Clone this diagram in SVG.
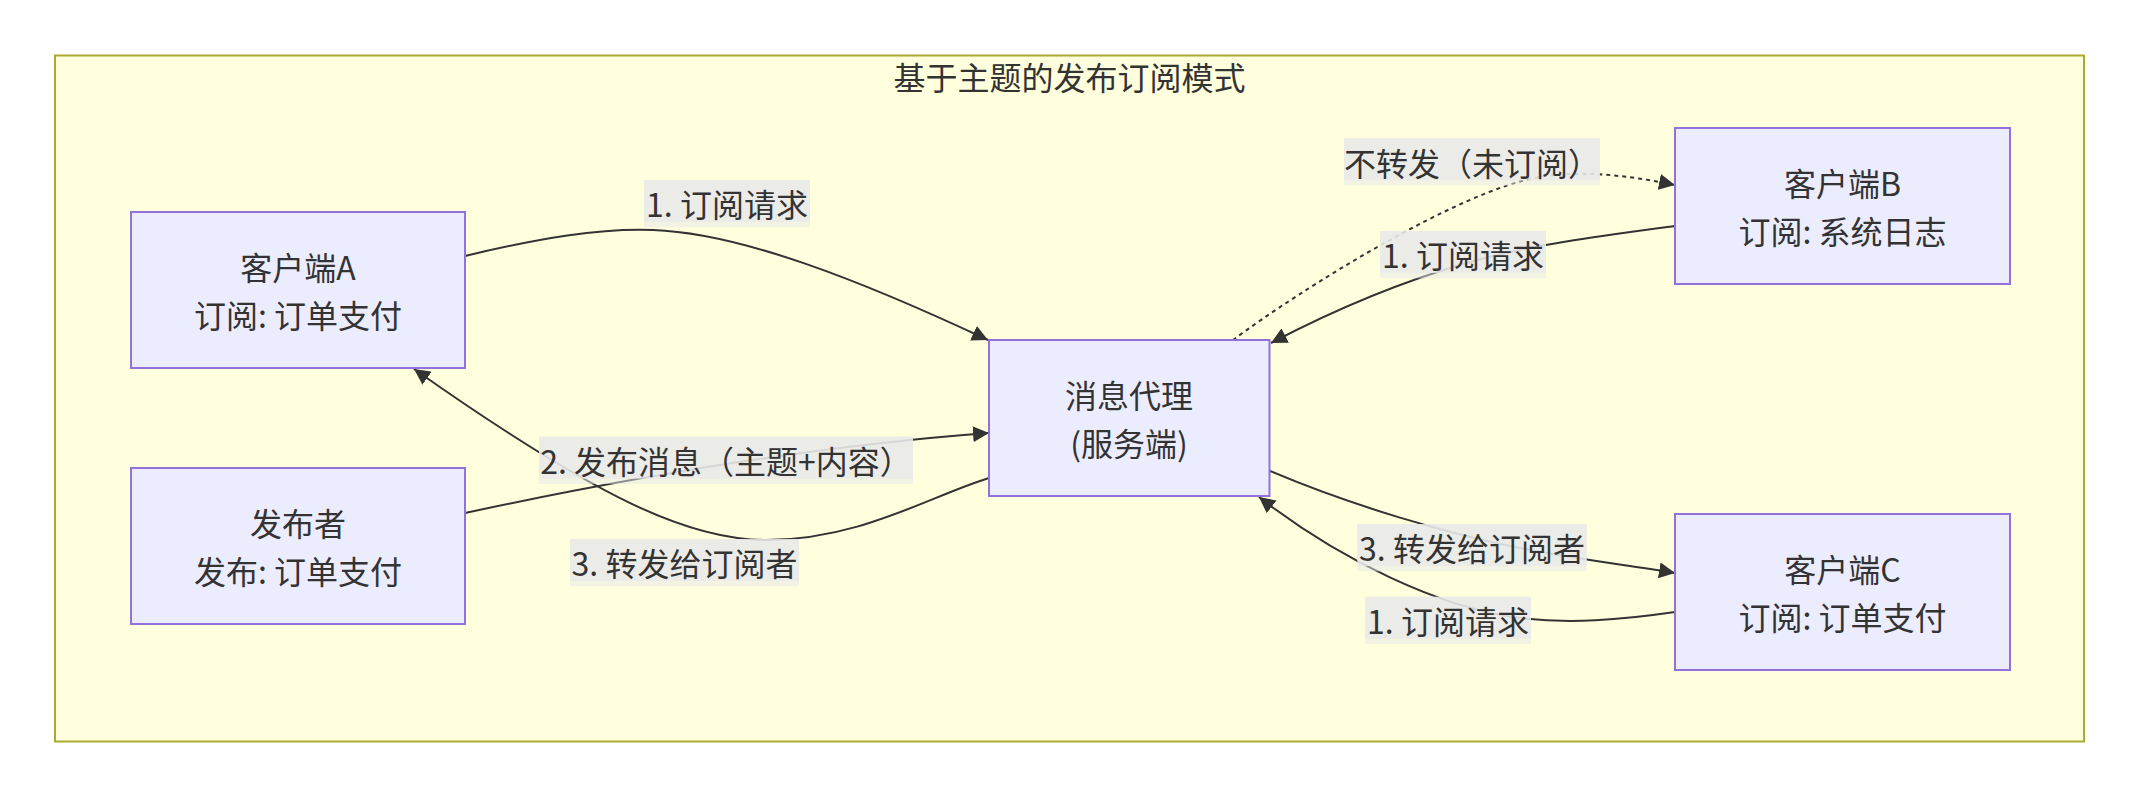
<svg xmlns="http://www.w3.org/2000/svg" width="2139" height="798" viewBox="0 0 2139 798">
<style>
text{font-family:"Noto Sans CJK SC","Noto Sans",sans-serif;font-size:32px;fill:#333;text-anchor:middle;dominant-baseline:central}
.cluster{fill:#ffffde;stroke:#aaaa33;stroke-width:2}
.node rect{fill:#ECECFF;stroke:#9370DB;stroke-width:2}
.edge{fill:none;stroke:#333;stroke-width:2}
.dotted{stroke-dasharray:4 4}
.lbg{fill:rgba(232,232,232,0.5)}
.lfg{fill:rgba(232,232,232,0.8)}
</style>
<defs>
<marker id="arrow" viewBox="0 0 10 10" refX="10" refY="5" markerUnits="userSpaceOnUse" markerWidth="16" markerHeight="16" orient="auto">
<path d="M0,0 L10,5 L0,10 z" fill="#333" stroke="none"/>
</marker>
</defs>
<g id="cluster">
<rect class="cluster" x="55" y="55.5" width="2029" height="686"/>
<text x="1069.5" y="76">基于主题的发布订阅模式</text>
</g>
<g id="connectors">
<path class="edge" d="M465,256 C540,238 600,228 653,230 C740,233 860,280 988,340" marker-end="url(#arrow)"/>
<path class="edge" d="M465,513 C600,484 800,447 989,433" marker-end="url(#arrow)"/>
<path class="edge" d="M989,478 C930,496 860,540 766,540 C690,540 600,500 414,369" marker-end="url(#arrow)"/>
<path class="edge dotted" d="M1233,340 C1300,290 1460,190 1540,177 C1590,169 1640,178 1675,185" marker-end="url(#arrow)"/>
<path class="edge" d="M1675,226 C1600,236 1530,245 1470,262 C1400,282 1330,312 1271,343" marker-end="url(#arrow)"/>
<path class="edge" d="M1270,471 C1350,505 1450,535 1530,550 C1590,561 1640,567 1675,573" marker-end="url(#arrow)"/>
<path class="edge" d="M1675,612 C1620,620 1570,624 1520,618 C1440,608 1340,560 1259,497" marker-end="url(#arrow)"/>
</g>
<g id="edge-labels">
<g id="label-a-sub"><rect class="lbg" x="644" y="180" width="166" height="47.3"/><rect class="lfg" x="644" y="180" width="166" height="42"/><text x="727" y="203">1. 订阅请求</text></g>
<g id="label-publish"><rect class="lbg" x="539" y="436.7" width="374" height="47.3"/><rect class="lfg" x="539" y="436.7" width="374" height="42"/><text x="726" y="460">2. 发布消息（主题+内容）</text></g>
<g id="label-a-fwd"><rect class="lbg" x="570" y="539" width="229" height="47.3"/><rect class="lfg" x="570" y="539" width="229" height="42"/><text x="684.5" y="562">3. 转发给订阅者</text></g>
<g id="label-b-nofwd"><rect class="lbg" x="1344" y="138.3" width="256" height="47.3"/><rect class="lfg" x="1344" y="138.3" width="256" height="42"/><text x="1472" y="161.5">不转发（未订阅）</text></g>
<g id="label-b-sub"><rect class="lbg" x="1380" y="231" width="166" height="47.3"/><rect class="lfg" x="1380" y="231" width="166" height="42"/><text x="1463" y="254">1. 订阅请求</text></g>
<g id="label-c-fwd"><rect class="lbg" x="1357.3" y="524" width="229.4" height="47.3"/><rect class="lfg" x="1357.3" y="524" width="229.4" height="42"/><text x="1472" y="547">3. 转发给订阅者</text></g>
<g id="label-c-sub"><rect class="lbg" x="1365.3" y="596.7" width="165.7" height="47.3"/><rect class="lfg" x="1365.3" y="596.7" width="165.7" height="42"/><text x="1448" y="620">1. 订阅请求</text></g>
</g>
<g id="clientA" class="node"><rect x="131" y="212" width="334" height="156"/><text x="298" y="266">客户端A</text><text x="298" y="314">订阅: 订单支付</text></g>
<g id="publisher" class="node"><rect x="131" y="468" width="334" height="156"/><text x="298" y="522">发布者</text><text x="298" y="570">发布: 订单支付</text></g>
<g id="broker" class="node"><rect x="989" y="340" width="280.5" height="156"/><text x="1129" y="394">消息代理</text><text x="1129" y="442">(服务端)</text></g>
<g id="clientB" class="node"><rect x="1675" y="128" width="335" height="156"/><text x="1842.5" y="182">客户端B</text><text x="1842.5" y="230">订阅: 系统日志</text></g>
<g id="clientC" class="node"><rect x="1675" y="514" width="335" height="156"/><text x="1842.5" y="568">客户端C</text><text x="1842.5" y="616">订阅: 订单支付</text></g>
</svg>
